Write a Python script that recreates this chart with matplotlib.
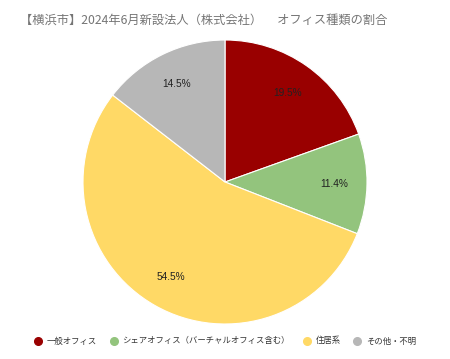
import matplotlib
matplotlib.use("Agg")
import matplotlib.pyplot as plt
from matplotlib.lines import Line2D

plt.rcParams['font.family'] = ['Noto Sans CJK JP', 'DejaVu Sans']

title = "【横浜市】2024年6月新設法人（株式会社）　 オフィス種類の割合"
categories = ["一般オフィス", "シェアオフィス（バーチャルオフィス含む）", "住居系", "その他・不明"]
shares = [19.5, 11.4, 54.5, 14.5]
colors = ["#990000", "#93c47d", "#ffd966", "#b7b7b7"]

fig = plt.figure(figsize=(4.5, 3.59), dpi=100)
W, H = 450, 359
cx, cy, r = 225, 182, 142
ax = fig.add_axes([(cx - r) / W, (H - cy - r) / H, 2 * r / W, 2 * r / H])

wedges, texts = ax.pie(shares, colors=colors, startangle=90, counterclock=False,
                       labels=["%.1f%%" % s for s in shares], labeldistance=0.77,
                       wedgeprops=dict(edgecolor="white", linewidth=0.8))
for t in texts:
    t.set_ha("center")
    t.set_va("center")
    t.set_fontsize(7.3)
    t.set_color("#222222")
    t.set_family(["Liberation Sans", "Noto Sans CJK JP"])
ax.set_xlim(-1, 1)
ax.set_ylim(-1, 1)
ax.set_aspect("equal")

fig.text(20 / W, 1 - 20.5 / H, title, fontsize=8.8, color="#757575", va="center", ha="left")

handles = [Line2D([], [], marker="o", linestyle="none", markersize=5.5,
                  markerfacecolor=c, markeredgecolor=c) for c in colors]
fig.legend(handles, categories, loc="center", bbox_to_anchor=(0.5, 1 - 341 / H),
           ncol=4, frameon=False, fontsize=6, handletextpad=0.55, columnspacing=1.5,
           handlelength=1.0, labelcolor="#333333")

fig.savefig("out.png", dpi=100)
